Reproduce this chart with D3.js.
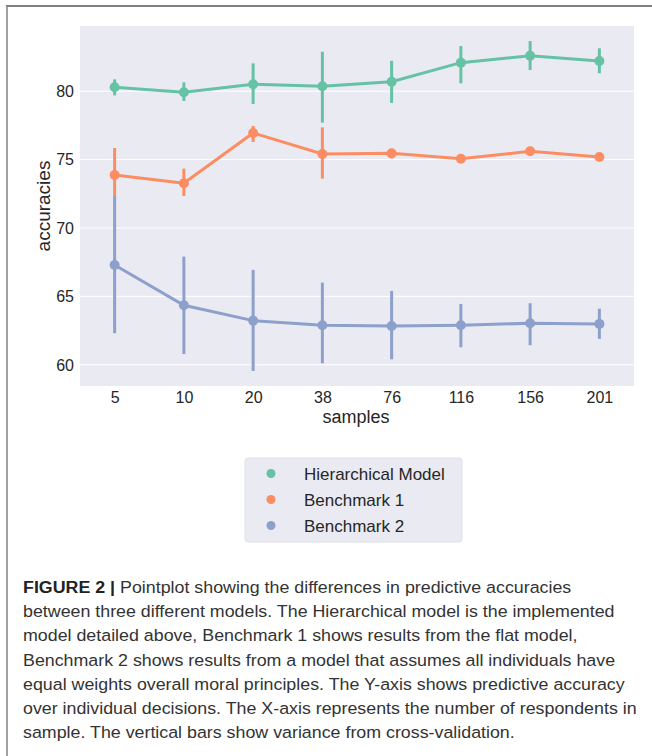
<!DOCTYPE html>
<html>
<head>
<meta charset="utf-8">
<script src="https://cdn.jsdelivr.net/npm/d3@7"></script>
<style>
  body { margin: 0; background: #fff; }
  text { font-family: "Liberation Sans", Arial, Helvetica, sans-serif; }
</style>
</head>
<body>
<svg id="chart" width="652" height="756"></svg>
<script>
// categories on the x axis (number of respondents in sample)
const samples = ["5", "10", "20", "38", "76", "116", "156", "201"];
const models = ["Hierarchical Model", "Benchmark 1", "Benchmark 2"];
const colors = ["#66c2a5", "#fc8d62", "#8da0cb"];

// point estimates and error bar ends
const hierMean = [80.25, 79.88, 80.47, 80.32, 80.66, 82.05, 82.56, 82.17];
const hierLow  = [79.66, 79.25, 79.03, 77.66, 79.10, 80.54, 81.51, 81.27];
const hierHigh = [80.83, 80.61, 82.00, 82.85, 82.19, 83.27, 83.63, 83.10];

const bench1Mean = [73.84, 73.23, 76.91, 75.37, 75.42, 75.03, 75.57, 75.15];
const bench1Low  = [72.30, 72.30, 76.25, 73.57, 75.05, 75.03, 75.57, 75.15];
const bench1High = [75.81, 74.30, 77.42, 77.32, 75.75, 75.03, 75.57, 75.15];

const bench2Mean = [67.26, 64.31, 63.19, 62.85, 62.80, 62.85, 63.00, 62.95];
const bench2Low  = [62.27, 60.75, 59.51, 60.07, 60.36, 61.24, 61.39, 61.85];
const bench2High = [72.30, 67.87, 66.90, 65.97, 65.36, 64.41, 64.46, 64.06];

const yTicks = [60, 65, 70, 75, 80];

const captionBold = "FIGURE 2 |";
const captionLines = [
  " Pointplot showing the differences in predictive accuracies",
  "between three different models. The Hierarchical model is the implemented",
  "model detailed above, Benchmark 1 shows results from the flat model,",
  "Benchmark 2 shows results from a model that assumes all individuals have",
  "equal weights overall moral principles. The Y-axis shows predictive accuracy",
  "over individual decisions. The X-axis represents the number of respondents in",
  "sample. The vertical bars show variance from cross-validation."
];

let series = [
  { name: models[0], color: colors[0], mean: hierMean, low: hierLow, high: hierHigh },
  { name: models[1], color: colors[1], mean: bench1Mean, low: bench1Low, high: bench1High },
  { name: models[2], color: colors[2], mean: bench2Mean, low: bench2Low, high: bench2High }
];

let svg = d3.select("#chart")
let plot = { left: 80, right: 634, top: 26, bottom: 386 };

// frame of the figure panel
svg.append("line")
  .attr("x1", 6).attr("x2", 652).attr("y1", 6).attr("y2", 6)
  .style("stroke", "#555").style("stroke-width", 1.6)
svg.append("line")
  .attr("x1", 7).attr("x2", 7).attr("y1", 6).attr("y2", 756)
  .style("stroke", "#8a8a8a").style("stroke-width", 1.6)

let x = d3.scalePoint()
  .domain(samples)
  .range([plot.left, plot.right])
  .padding(0.5)

let y = d3.scaleLinear()
  .domain([58.41, 84.73])
  .range([plot.bottom, plot.top])

svg.append("rect")
  .attr("x", plot.left)
  .attr("y", plot.top)
  .attr("width", plot.right - plot.left)
  .attr("height", plot.bottom - plot.top)
  .style("fill", "#eaeaf2")

let yAxis = svg.append("g")
  .attr("class", "y axis")
  .attr("transform", `translate(${plot.left},0)`)
  .call(d3.axisLeft(y).tickValues(yTicks).tickSize(-(plot.right - plot.left)).tickPadding(6))
yAxis.select(".domain").remove()
yAxis.selectAll("line").style("stroke", "#fff").style("stroke-width", 1)
yAxis.selectAll("text")
  .style("font-size", "16px")
  .style("fill", "#262626")
  .attr("dy", "0.36em")

let xAxis = svg.append("g")
  .attr("class", "x axis")
  .attr("transform", `translate(0,${plot.bottom})`)
  .call(d3.axisBottom(x).tickSize(0).tickPadding(6))
xAxis.select(".domain").remove()
xAxis.selectAll("text")
  .style("font-size", "16px")
  .style("fill", "#262626")

svg.append("text")
  .attr("x", 356)
  .attr("y", 423)
  .attr("text-anchor", "middle")
  .style("font-size", "18px")
  .style("fill", "#262626")
  .text("samples")

svg.append("text")
  .attr("transform", "translate(50,206) rotate(-90)")
  .attr("text-anchor", "middle")
  .style("font-size", "19px")
  .style("fill", "#262626")
  .text("accuracies")

let line = d3.line()
  .x((d, i) => x(samples[i]))
  .y(d => y(d))

let groups = svg.append("g")
  .attr("id", "series")
  .selectAll("g")
  .data(series)
  .join("g")

groups.append("path")
  .attr("d", d => line(d.mean))
  .style("fill", "none")
  .style("stroke", d => d.color)
  .style("stroke-width", 3)

groups.selectAll("line.err")
  .data(d => samples.map((s, i) => ({ s: s, lo: d.low[i], hi: d.high[i], color: d.color })))
  .join("line")
  .attr("class", "err")
  .attr("x1", d => x(d.s))
  .attr("x2", d => x(d.s))
  .attr("y1", d => y(d.lo))
  .attr("y2", d => y(d.hi))
  .style("stroke", d => d.color)
  .style("stroke-width", 3)

groups.selectAll("circle")
  .data(d => samples.map((s, i) => ({ s: s, v: d.mean[i], color: d.color })))
  .join("circle")
  .attr("cx", d => x(d.s))
  .attr("cy", d => y(d.v))
  .attr("r", 5)
  .style("fill", d => d.color)

// legend
let legend = svg.append("g").attr("id", "legend")
legend.append("rect")
  .attr("x", 245).attr("y", 458)
  .attr("width", 217).attr("height", 84)
  .attr("rx", 3)
  .style("fill", "#eaeaf2")
  .style("stroke", "#e0e0ea")

let items = legend.selectAll("g.item")
  .data(series)
  .join("g")
  .attr("class", "item")
  .attr("transform", (d, i) => `translate(0,${473.5 + i * 26})`)
items.append("circle")
  .attr("cx", 271)
  .attr("r", 4.5)
  .style("fill", d => d.color)
items.append("text")
  .attr("x", 304)
  .attr("y", 6)
  .style("font-size", "17px")
  .style("fill", "#262626")
  .text(d => d.name)

// caption
let caption = svg.append("g").attr("id", "caption")
let capTexts = caption.selectAll("text")
  .data(captionLines)
  .join("text")
  .attr("x", 0)
  .attr("y", (d, i) => 593 + i * 24.2)
  .style("font-size", "17px")
  .style("fill", "#333")

capTexts.each(function (d, i) {
  let t = d3.select(this)
  if (i == 0) {
    t.append("tspan").style("font-weight", "bold").style("fill", "#222").text(captionBold)
  }
  t.append("tspan").text(d)
})

// the caption face is narrower than Liberation Sans, squeeze it horizontally
let longest = capTexts.nodes()[5].getComputedTextLength()
let k = 614 / longest
caption.attr("transform", `translate(23,0) scale(${k},1)`)
</script>
</body>
</html>
